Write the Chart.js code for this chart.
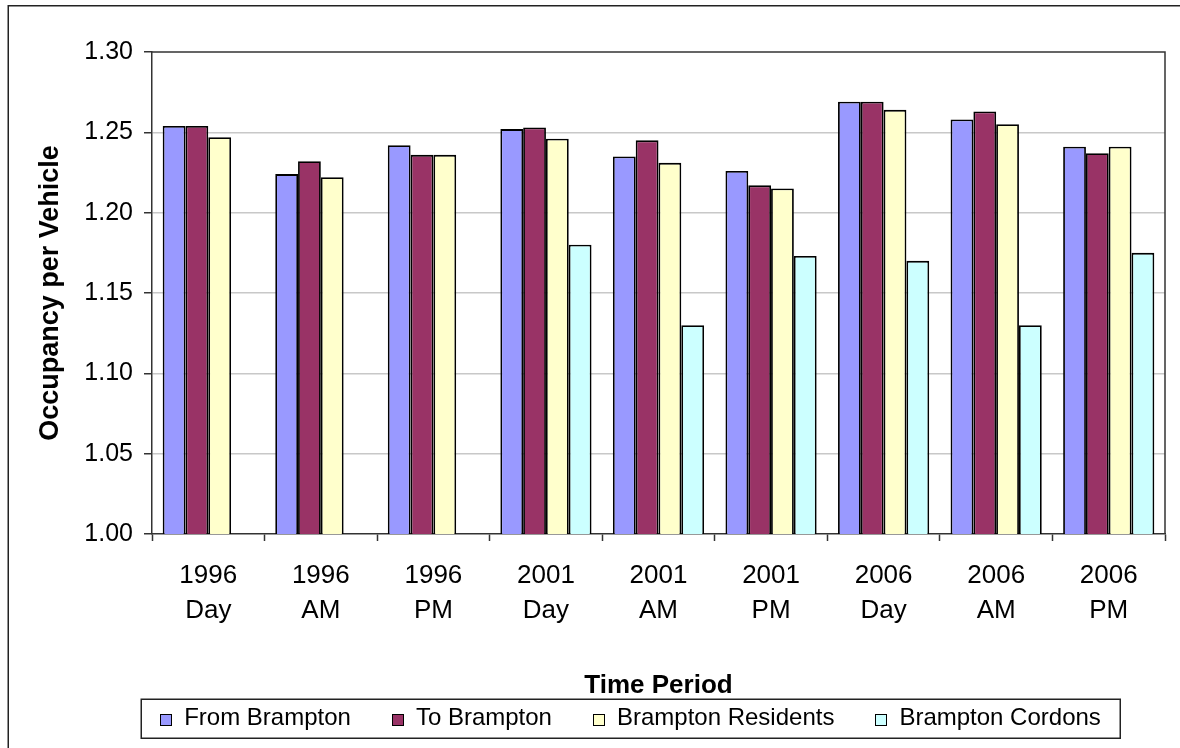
<!DOCTYPE html>
<html>
<head>
<meta charset="utf-8">
<title>Occupancy per Vehicle by Time Period</title>
<script src="https://cdn.jsdelivr.net/npm/chart.js@4/dist/chart.umd.min.js"></script>
<style>
  html, body { margin: 0; padding: 0; background: #ffffff; }
  #wrap { width: 1180px; height: 748px; position: relative; }
</style>
</head>
<body>
<div id="wrap"><canvas id="chart" width="1180" height="748"></canvas></div>
<script>
// Time periods (two-line category labels)
const periods = [
  ['1996', 'Day'], ['1996', 'AM'], ['1996', 'PM'],
  ['2001', 'Day'], ['2001', 'AM'], ['2001', 'PM'],
  ['2006', 'Day'], ['2006', 'AM'], ['2006', 'PM']
];

// Average occupancy per vehicle for each series
const fromBrampton      = [1.254, 1.224, 1.242, 1.252, 1.235, 1.226, 1.269, 1.258, 1.241];
const toBrampton        = [1.254, 1.232, 1.236, 1.253, 1.245, 1.217, 1.269, 1.263, 1.237];
const bramptonResidents = [1.247, 1.222, 1.236, 1.246, 1.231, 1.215, 1.264, 1.255, 1.241];
const bramptonCordons   = [null,  null,  null,  1.180, 1.130, 1.173, 1.170, 1.130, 1.175];

const seriesNames  = ['From Brampton', 'To Brampton', 'Brampton Residents', 'Brampton Cordons'];
const seriesColors = ['#9999FF', '#993366', '#FFFFCC', '#CCFFFF'];

// Value axis range and step
const yMin = 1.00, yMax = 1.30, yStep = 0.05;

const FONT = "'Liberation Sans', Arial, Helvetica, sans-serif";
Chart.defaults.color = '#000';
Chart.defaults.font.family = FONT;

// White page with the outer chart frame
const chartFrame = {
  id: 'chartFrame',
  beforeDraw(chart) {
    const ctx = chart.ctx;
    ctx.save();
    ctx.fillStyle = '#fff';
    ctx.fillRect(0, 0, chart.width, chart.height);
    ctx.strokeStyle = '#222';
    ctx.lineWidth = 1.5;
    ctx.beginPath();
    ctx.moveTo(8.25, chart.height + 2);
    ctx.lineTo(8.25, 5.75);
    ctx.lineTo(chart.width + 2, 5.75);
    ctx.stroke();
    ctx.restore();
  },
  // plot-area border (top and right edges)
  beforeDatasetsDraw(chart) {
    const {ctx, chartArea: a} = chart;
    ctx.save();
    ctx.strokeStyle = '#333';
    ctx.lineWidth = 1.5;
    ctx.beginPath();
    ctx.moveTo(a.left, a.top);
    ctx.lineTo(a.right, a.top);
    ctx.lineTo(a.right, a.bottom);
    ctx.stroke();
    ctx.restore();
  }
};

// Legend in a framed box below the axis title
const boxedLegend = {
  id: 'boxedLegend',
  afterDraw(chart, args, opts) {
    const ctx = chart.ctx;
    ctx.save();
    ctx.font = opts.font;
    const items = chart.data.datasets.map(d => ({
      text: d.label, color: d.backgroundColor, w: ctx.measureText(d.label).width
    }));
    const sw = opts.boxSize;
    const total = items.reduce((s, it) => s + sw + opts.textGap + it.w, 0) + opts.itemGap * (items.length - 1);
    const left = opts.centerX - total / 2;
    ctx.strokeStyle = '#222';
    ctx.lineWidth = 1.5;
    ctx.strokeRect(Math.round(left - opts.padX) + 0.25, opts.top + 0.25,
                   Math.round(total + 2 * opts.padX), opts.height);
    const cy = opts.top + opts.height / 2;
    let x = left;
    ctx.lineWidth = 1;
    items.forEach(it => {
      const bx = Math.round(x), by = Math.round(cy - sw / 2 + 1);
      ctx.fillStyle = it.color;
      ctx.fillRect(bx, by, sw, sw);
      ctx.strokeStyle = '#000';
      ctx.strokeRect(bx + 0.5, by + 0.5, sw, sw);
      ctx.fillStyle = '#000';
      ctx.textBaseline = 'middle';
      ctx.textAlign = 'left';
      ctx.fillText(it.text, x + sw + opts.textGap, cy);
      x += sw + opts.textGap + it.w + opts.itemGap;
    });
    ctx.restore();
  }
};

const datasetValues = [fromBrampton, toBrampton, bramptonResidents, bramptonCordons];

new Chart(document.getElementById('chart'), {
  type: 'bar',
  data: {
    labels: periods,
    datasets: seriesNames.map((name, i) => ({
      label: name,
      data: datasetValues[i],
      backgroundColor: seriesColors[i],
      borderColor: '#000',
      borderWidth: 1.8,
      borderSkipped: false,
      categoryPercentage: 0.81,
      barPercentage: 1.0
    }))
  },
  options: {
    responsive: false,
    animation: false,
    devicePixelRatio: 1,
    layout: { padding: { left: 20, top: 52, right: 15, bottom: 0 } },
    plugins: {
      legend: { display: false },
      tooltip: { enabled: false },
      boxedLegend: {
        font: "24px " + FONT,
        boxSize: 11, textGap: 13, itemGap: 41, padX: 19,
        centerX: 630.5, top: 699, height: 39
      }
    },
    scales: {
      x: {
        afterFit(scale) { scale.height = 748 - 534; },
        grid: {
          display: true,
          drawOnChartArea: false,
          offset: true,
          tickLength: 7,
          tickColor: '#333',
          tickWidth: 1.5
        },
        border: { display: true, color: '#333', width: 1.5 },
        ticks: {
          font: { size: 26, lineHeight: 1.35 },
          padding: 17,
          maxRotation: 0,
          autoSkip: false
        },
        title: {
          display: true,
          text: 'Time Period',
          font: { size: 26, weight: 'bold', lineHeight: 1.2 },
          padding: { top: 0, bottom: 47 }
        }
      },
      y: {
        min: yMin,
        max: yMax,
        afterFit(scale) { scale.width = 152 - 20; },
        ticks: {
          stepSize: yStep,
          font: { size: 25 },
          padding: 11,
          callback: v => Number(v).toFixed(2)
        },
        grid: {
          color: ctx => (Math.abs(ctx.tick.value - yMax) < 1e-6 || Math.abs(ctx.tick.value - yMin) < 1e-6) ? 'rgba(0,0,0,0)' : '#c8c8c8',
          lineWidth: 1.5,
          tickLength: 8,
          tickColor: '#333',
          tickWidth: 1.5
        },
        border: { display: true, color: '#333', width: 1.5 },
        title: {
          display: true,
          text: 'Occupancy per Vehicle',
          font: { size: 27, weight: 'bold', lineHeight: 1.2 },
          padding: { top: 14, bottom: 0 }
        }
      }
    }
  },
  plugins: [chartFrame, boxedLegend]
});
</script>
</body>
</html>
